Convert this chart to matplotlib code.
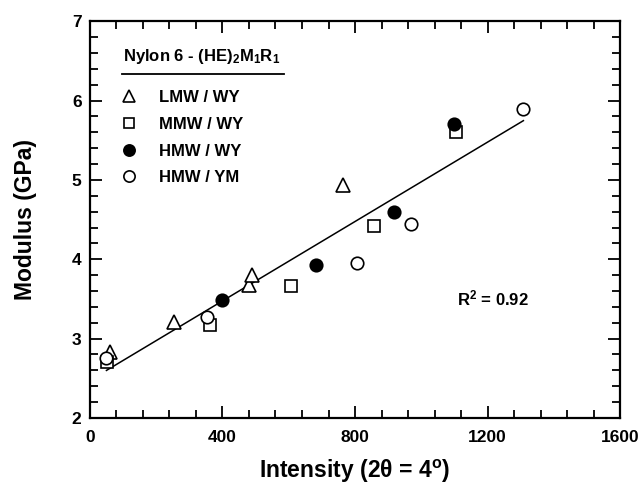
import numpy as np
import matplotlib
matplotlib.use("Agg")
import matplotlib.pyplot as plt
from matplotlib.ticker import MultipleLocator

plt.rcParams['font.family'] = ['Liberation Sans', 'DejaVu Sans']
plt.rcParams['font.weight'] = 'bold'
plt.rcParams['mathtext.fontset'] = 'custom'
plt.rcParams['mathtext.rm'] = 'Liberation Sans:bold'
plt.rcParams['mathtext.it'] = 'Liberation Sans:bold:italic'
plt.rcParams['mathtext.bf'] = 'Liberation Sans:bold'

# data
lmw_wy_x = [60, 254, 480, 489, 765]
lmw_wy_y = [2.83, 3.21, 3.67, 3.80, 4.94]

mmw_wy_x = [52, 362, 606, 857, 1105]
mmw_wy_y = [2.70, 3.17, 3.66, 4.42, 5.61]

hmw_wy_x = [400, 681, 919, 1099]
hmw_wy_y = [3.49, 3.93, 4.60, 5.71]

hmw_ym_x = [50, 352, 805, 969, 1308]
hmw_ym_y = [2.75, 3.27, 3.95, 4.45, 5.90]

r2_text = 'R$^2$ = 0.92'

fig = plt.figure(figsize=(6.42, 4.94), dpi=100)
ax = fig.add_axes([0.140, 0.154, 0.826, 0.803])

ms = 9
h1, = ax.plot(lmw_wy_x, lmw_wy_y, '^', ms=ms + 1, mfc='white', mec='black', mew=1.2, ls='none', label='LMW / WY')
h2, = ax.plot(mmw_wy_x, mmw_wy_y, 's', ms=ms - 1, mfc='white', mec='black', mew=1.2, ls='none', label='MMW / WY')
h3, = ax.plot(hmw_wy_x, hmw_wy_y, 'o', ms=ms, mfc='black', mec='black', mew=1.2, ls='none', label='HMW / WY')
h4, = ax.plot(hmw_ym_x, hmw_ym_y, 'o', ms=ms, mfc='white', mec='black', mew=1.2, ls='none', label='HMW / YM')

# linear fit over all points
all_x = np.array(lmw_wy_x + mmw_wy_x + hmw_wy_x + hmw_ym_x)
all_y = np.array(lmw_wy_y + mmw_wy_y + hmw_wy_y + hmw_ym_y)
k, b = np.polyfit(all_x, all_y, 1)
fx = np.array([all_x.min(), all_x.max()])
ax.plot(fx, k * fx + b, color='black', lw=1.1, zorder=1)

ax.set_xlim(0, 1600)
ax.set_ylim(2, 7)
ax.xaxis.set_major_locator(MultipleLocator(400))
ax.xaxis.set_minor_locator(MultipleLocator(80))
ax.yaxis.set_major_locator(MultipleLocator(1))
ax.yaxis.set_minor_locator(MultipleLocator(0.2))
ax.tick_params(which='both', direction='in', top=True, right=True, width=1.3, labelsize=12.5)
ax.tick_params(axis='x', pad=9)
ax.tick_params(axis='y', pad=6)
ax.tick_params(which='major', length=8.6)
ax.tick_params(which='minor', length=5.8)
for s in ax.spines.values():
    s.set_linewidth(1.6)

ax.set_xlabel('Intensity (2\u03b8 = 4$^{\\mathrm{o}}$)', fontsize=16.5, fontweight='bold', labelpad=9)
ax.set_ylabel('Modulus (GPa)', fontsize=16.5, fontweight='bold', labelpad=25)

ax.text(1107, 3.5, r2_text, fontsize=12, fontweight='bold', va='center', ha='left')

# legend block
ax.text(0.062, 0.910, 'Nylon 6 - (HE)$_2$M$_1$R$_1$', transform=ax.transAxes,
        fontsize=12, fontweight='bold', va='center', ha='left')
ax.plot([0.060, 0.366], [0.866, 0.866], transform=ax.transAxes, color='black', lw=1.3, clip_on=False)
ax.legend(handles=[h1, h2, h3, h4], loc='upper left', bbox_to_anchor=(0.058, 0.826),
          frameon=False, fontsize=12, borderpad=0, borderaxespad=0, markerscale=0.9,
          handlelength=1.0, handletextpad=1.3, labelspacing=0.7)

fig.savefig('out.png', dpi=100)
